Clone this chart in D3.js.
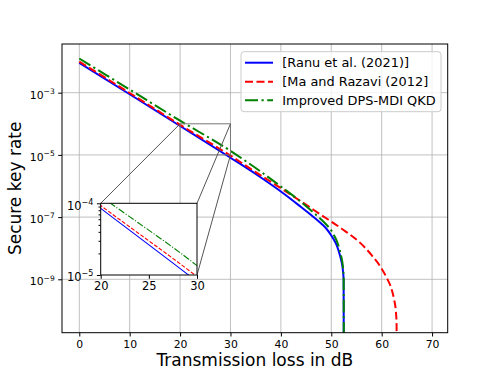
<!DOCTYPE html>
<html><head><meta charset="utf-8">
<script src="https://cdn.jsdelivr.net/npm/d3@7"></script>
<style>
body{margin:0;background:#fff;}
svg{display:block;font-family:"DejaVu Sans",sans-serif;}
</style></head>
<body><svg id="chart" width="498" height="374"></svg>
<script>
// ---- data ----
const seriesNames = ["[Ranu et al. (2021)]", "[Ma and Razavi (2012]", "Improved DPS-MDI QKD"];
const lossBlue  = [0, 10, 20, 30, 35, 40, 44, 46, 48, 49, 50, 50.5, 51, 51.5, 52, 52.3, 52.45, 52.48];
const rateBlue  = [9.1e-3, 8.9e-4, 8.5e-5, 8.1e-6, 2.43e-6, 6.65e-7, 2.11e-7, 1.17e-7, 6.23e-8, 4.3e-8, 2.56e-8, 1.9e-8, 1.32e-8, 7.8e-9, 3.87e-9, 1.99e-9, 9.5e-10, 1e-12];
const lossRed   = [0, 10, 20, 30, 35, 40, 44, 48, 52, 56, 58, 60, 61, 62, 62.5, 62.8, 62.95, 63.0];
const rateRed   = [1.0e-2, 9.8e-4, 9.3e-5, 9.5e-6, 2.8e-6, 8.5e-7, 3.2e-7, 1.17e-7, 4.3e-8, 1.35e-8, 6.0e-9, 2.2e-9, 1.12e-9, 4.6e-10, 2.1e-10, 1.0e-10, 4.0e-11, 1e-12];
const lossGreen = [0, 10, 20, 30, 35, 40, 44, 46, 48, 49, 50, 50.5, 51, 51.5, 52, 52.3, 52.45, 52.5];
const rateGreen = [1.26e-2, 1.26e-3, 1.26e-4, 1.35e-5, 3.79e-6, 9.64e-7, 3.06e-7, 1.63e-7, 8.37e-8, 5.78e-8, 3.71e-8, 2.66e-8, 1.84e-8, 1.09e-8, 5.2e-9, 2.68e-9, 1.28e-9, 1e-12];
const xTicks = [0, 10, 20, 30, 40, 50, 60, 70];
const yTickExps = [-3, -5, -7, -9];
const insetXTicks = [20, 25, 30];
const insetYTickExps = [-4, -5];
const insetXRange = [20, 30];
const insetYRange = [1e-5, 1e-4];
const xLabel = "Transmission loss in dB";
const yLabel = "Secure key rate";

const colors = ["#0000ff", "#ff0000", "#008000"];
const dashes = [null, "8,3.5", "13,3.5,2.2,3.5"];
const dashesInset = [null, "4,1.7", "6.9,1.7,1.1,1.7"];

const svg = d3.select("#chart");
const L = 62, R = 447.7, T = 44, B = 332.7;
const x = d3.scaleLinear().domain([-3.43, 73.1]).range([L, R]);
const y = d3.scaleLog().domain([Math.pow(10, -10.717), Math.pow(10, -1.434)]).range([B, T]);

const series = [
  {loss: lossBlue, rate: rateBlue},
  {loss: lossRed, rate: rateRed},
  {loss: lossGreen, rate: rateGreen}
];

const defs = svg.append("defs");
defs.append("clipPath").attr("id", "clipMain").append("rect")
  .attr("x", L).attr("y", T).attr("width", R - L).attr("height", B - T);

// grid
const grid = svg.append("g");
xTicks.forEach(t => grid.append("line").attr("x1", x(t)).attr("x2", x(t)).attr("y1", T).attr("y2", B)
  .attr("stroke", "#b0b0b0").attr("stroke-width", 0.8));
yTickExps.forEach(e => grid.append("line").attr("x1", L).attr("x2", R).attr("y1", y(Math.pow(10, e))).attr("y2", y(Math.pow(10, e)))
  .attr("stroke", "#b0b0b0").attr("stroke-width", 0.8));

// lines
const gl = svg.append("g").attr("clip-path", "url(#clipMain)");
series.forEach((s, i) => {
  const pts = s.loss.map((v, k) => [v, s.rate[k]]);
  const line = d3.line().x(d => x(d[0])).y(d => y(d[1])).curve(d3.curveMonotoneX);
  gl.append("path").attr("d", line(pts)).attr("fill", "none")
    .attr("stroke", colors[i]).attr("stroke-width", 2)
    .attr("stroke-dasharray", dashes[i]);
});

// inset indicator rectangle and connectors
const ix = d3.scaleLinear().domain(insetXRange).range([100.7, 197]);
const iy = d3.scaleLog().domain(insetYRange).range([275, 203.3]);
const rx0 = x(insetXRange[0]), rx1 = x(insetXRange[1]);
const ry0 = y(insetYRange[1]), ry1 = y(insetYRange[0]);
svg.append("rect").attr("x", rx0).attr("y", ry0).attr("width", rx1 - rx0).attr("height", ry1 - ry0)
  .attr("fill", "none").attr("stroke", "#777").attr("stroke-width", 1);
const conn = [
  [ix.range()[0], iy.range()[1], rx0, ry0],
  [ix.range()[1], iy.range()[1], rx1, ry0],
  [ix.range()[1], iy.range()[0], rx1, ry1]
];
conn.forEach(c => svg.append("line").attr("x1", c[0]).attr("y1", c[1]).attr("x2", c[2]).attr("y2", c[3])
  .attr("stroke", "#555").attr("stroke-width", 1));

// spines
svg.append("rect").attr("x", L).attr("y", T).attr("width", R - L).attr("height", B - T)
  .attr("fill", "none").attr("stroke", "#000").attr("stroke-width", 1);

// axes
const xAxis = svg.append("g").attr("transform", `translate(0,${B})`)
  .call(d3.axisBottom(x).tickValues(xTicks).tickSize(3.8).tickPadding(3.5).tickFormat(d3.format("d")));
xAxis.select(".domain").remove();
xAxis.selectAll("text").attr("font-size", 10.8).attr("font-family", "DejaVu Sans").attr("fill", "#000");

function supLabel(sel, exp, fs) {
  sel.text(null);
  sel.append("tspan").text("10");
  sel.append("tspan").attr("dy", -0.42 * fs).attr("font-size", fs * 0.7).text("\u2212" + Math.abs(exp));
}

const yAxis = svg.append("g").attr("transform", `translate(${L},0)`)
  .call(d3.axisLeft(y).tickValues(yTickExps.map(e => Math.pow(10, e))).tickSize(3.8).tickPadding(3.5).tickFormat(() => ""));
yAxis.select(".domain").remove();
yAxis.selectAll(".tick text").each(function(d) {
  const e = Math.round(Math.log10(d));
  const t = d3.select(this).attr("font-size", 10.8).attr("font-family", "DejaVu Sans").attr("fill", "#000").attr("dy", "0.5em");
  supLabel(t, e, 10.8);
});

// axis labels
svg.append("text").attr("x", (L + R) / 2).attr("y", 366).attr("text-anchor", "middle")
  .attr("font-size", 17).text(xLabel);
svg.append("text").attr("transform", `translate(21,${(T + B) / 2}) rotate(-90)`).attr("text-anchor", "middle")
  .attr("font-size", 17).text(yLabel);

// legend
const lg = svg.append("g");
lg.append("rect").attr("x", 241).attr("y", 51.7).attr("width", 200).attr("height", 60).attr("rx", 3)
  .attr("fill", "#fff").attr("fill-opacity", 0.8).attr("stroke", "#cccccc").attr("stroke-width", 1);
const rowY = [62.7, 81.7, 100.3];
seriesNames.forEach((n, i) => {
  lg.append("line").attr("x1", 245).attr("x2", 273).attr("y1", rowY[i]).attr("y2", rowY[i])
    .attr("stroke", colors[i]).attr("stroke-width", 2).attr("stroke-dasharray", dashes[i]);
  lg.append("text").attr("x", 282.3).attr("y", rowY[i]).attr("dy", "0.36em").attr("font-size", 12.9).text(n);
});

// inset
defs.append("clipPath").attr("id", "clipInset").append("rect")
  .attr("x", 100.7).attr("y", 203.3).attr("width", 96.3).attr("height", 71.7);
const ins = svg.append("g");
ins.append("rect").attr("x", 100.7).attr("y", 203.3).attr("width", 96.3).attr("height", 71.7).attr("fill", "#fff");
const igl = ins.append("g").attr("clip-path", "url(#clipInset)");
series.forEach((s, i) => {
  const pts = s.loss.map((v, k) => [v, s.rate[k]]);
  const line = d3.line().x(d => ix(d[0])).y(d => iy(d[1])).curve(d3.curveMonotoneX);
  igl.append("path").attr("d", line(pts)).attr("fill", "none")
    .attr("stroke", colors[i]).attr("stroke-width", 1.1)
    .attr("stroke-dasharray", dashesInset[i]);
});
ins.append("rect").attr("x", 100.7).attr("y", 203.3).attr("width", 96.3).attr("height", 71.7)
  .attr("fill", "none").attr("stroke", "#000").attr("stroke-width", 1);
const ixAxis = ins.append("g").attr("transform", "translate(0,275)")
  .call(d3.axisBottom(ix).tickValues(insetXTicks).tickSize(3.8).tickPadding(3.5).tickFormat(d3.format("d")));
ixAxis.select(".domain").remove();
ixAxis.selectAll("text").attr("font-size", 11.5).attr("font-family", "DejaVu Sans").attr("fill", "#000");
const minorVals = [];
for (let m = 2; m <= 9; m++) minorVals.push(m * 1e-5);
const iyMinor = ins.append("g").attr("transform", "translate(100.7,0)")
  .call(d3.axisLeft(iy).tickValues(minorVals).tickSize(2.2).tickFormat(() => ""));
iyMinor.select(".domain").remove();
const iyAxis = ins.append("g").attr("transform", "translate(100.7,0)")
  .call(d3.axisLeft(iy).tickValues(insetYTickExps.map(e => Math.pow(10, e))).tickSize(3.8).tickPadding(3.5).tickFormat(() => ""));
iyAxis.select(".domain").remove();
iyAxis.selectAll(".tick text").each(function(d) {
  const e = Math.round(Math.log10(d));
  const t = d3.select(this).attr("font-size", 11.5).attr("font-family", "DejaVu Sans").attr("fill", "#000").attr("dy", "0.5em");
  supLabel(t, e, 11.5);
});
</script></body></html>
